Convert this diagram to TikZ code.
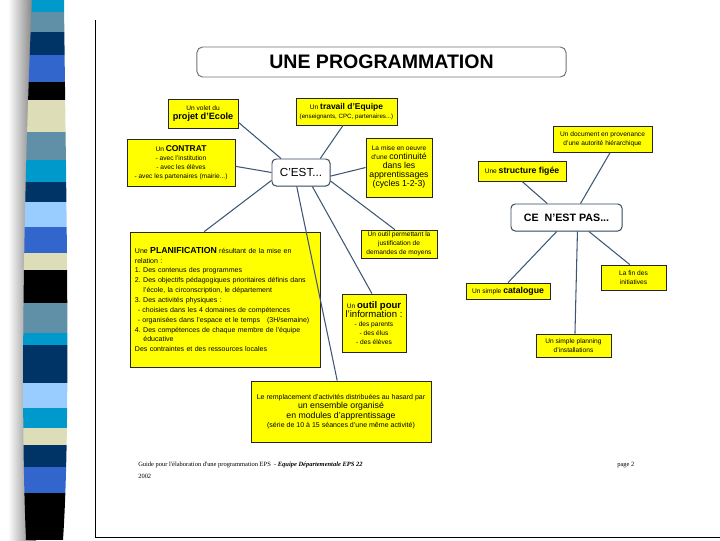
\documentclass[tikz,border=0pt]{standalone}
\usepackage{fontspec}
\setmainfont{Liberation Sans}
\newfontfamily\footfont{Liberation Serif}
\usetikzlibrary{positioning}

\definecolor{boxyellow}{RGB}{255,255,0}
\definecolor{linkblue}{RGB}{62,86,118}
\definecolor{cyanb}{RGB}{0,153,204}
\definecolor{steelb}{RGB}{95,144,168}
\definecolor{navyb}{RGB}{0,51,102}
\definecolor{royalb}{RGB}{51,102,204}
\definecolor{beigeb}{RGB}{221,221,184}
\definecolor{lightb}{RGB}{153,204,255}

\newcommand{\tinytxt}{\fontsize{4.7}{6.4}\selectfont}
\newcommand{\midtxt}{\fontsize{6.2}{7.9}\selectfont}
\newcommand{\planiftxt}{\fontsize{5}{7}\selectfont}

\begin{document}
\begin{tikzpicture}[
x=0.025cm, y=-0.025cm,
ybox/.style={draw=black!85, line width=0.55pt, fill=boxyellow, align=center, inner sep=1pt, font=\tinytxt},
rbox/.style={draw=linkblue!80!black, line width=0.7pt, fill=white, rounded corners=3pt, align=center, inner sep=1pt},
link/.style={draw=linkblue, line width=0.75pt}
]
\useasboundingbox (0,0) rectangle (720,540);

% side stripe
\shade[left color=white, right color=black!55] (8,0) rectangle (36,540);
\begin{scope}
\clip (32,0) .. controls (24,180) and (20,400) .. (26,540) -- (63,540) .. controls (71,420) and (66,200) .. (64,0) -- cycle;
\fill[cyanb] (0,0) rectangle (80,12);
\fill[steelb] (0,12) rectangle (80,32);
\fill[navyb] (0,32) rectangle (80,55);
\fill[royalb] (0,55) rectangle (80,82);
\fill[black] (0,82) rectangle (80,100);
\fill[beigeb] (0,100) rectangle (80,132);
\fill[steelb] (0,132) rectangle (80,160);
\fill[cyanb] (0,160) rectangle (80,182);
\fill[navyb] (0,182) rectangle (80,202);
\fill[lightb] (0,202) rectangle (80,227);
\fill[royalb] (0,227) rectangle (80,253);
\fill[beigeb] (0,253) rectangle (80,270);
\fill[black] (0,270) rectangle (80,303);
\fill[steelb] (0,303) rectangle (80,333);
\fill[cyanb] (0,333) rectangle (80,345);
\fill[navyb] (0,345) rectangle (80,383);
\fill[lightb] (0,383) rectangle (80,408);
\fill[cyanb] (0,408) rectangle (80,428);
\fill[beigeb] (0,428) rectangle (80,445);
\fill[navyb] (0,445) rectangle (80,467);
\fill[royalb] (0,467) rectangle (80,493);
\fill[black] (0,493) rectangle (80,540);
\end{scope}

% page edge
\draw[black, line width=0.6pt] (95,20) -- (95,537) -- (720,537);

% title
\node[rbox, draw=black!55, rounded corners=4pt, minimum width=9.225cm, minimum height=0.75cm, font=\fontsize{13.9}{15}\selectfont\bfseries] (title) at (381.5,62) {UNE PROGRAMMATION};

% C'EST...
\node[rbox, minimum width=1.45cm, minimum height=0.675cm, font=\fontsize{8.3}{10}\selectfont] (cest) at (301,172.5) {C'EST...};
\node[ybox, minimum width=1.75cm, minimum height=0.725cm] (volet) at (203,113.5) {Un volet du\\{\fontsize{6.5}{8}\selectfont\bfseries projet d'Ecole}};
\node[ybox, minimum width=2.525cm, minimum height=0.675cm] (travail) at (346.5,111.5) {Un {\fontsize{6}{7.5}\selectfont\bfseries travail d'Equipe}\\{\fontsize{4.4}{6}\selectfont(enseignants, CPC, partenaires...)}};
\node[ybox, minimum width=2.7cm, minimum height=1.175cm] (contrat) at (181,162.5) {Un {\fontsize{6}{7.5}\selectfont\bfseries CONTRAT}\\- avec l'institution\\- avec les élèves\\- avec les partenaires (mairie...)};
\node[ybox, minimum width=1.65cm, minimum height=1.475cm] (continu) at (399,167.5) {La mise en oeuvre\\d'une {\midtxt continuité}\\{\midtxt dans les}\\{\midtxt apprentissages}\\{\midtxt (cycles 1-2-3)}};
\node[ybox, minimum width=4.75cm, minimum height=3.375cm, text width=4.5cm, align=left, font=\planiftxt] (planif) at (225,299.5) {Une {\fontsize{6.2}{7.5}\selectfont\bfseries PLANIFICATION} résultant de la mise en\\
relation :\\
1.\ Des contenus des programmes\\
2.\ Des objectifs pédagogiques prioritaires définis dans\\
\hspace*{1.2em}l'école, la circonscription, le département\\
3.\ Des activités physiques :\\
\hspace*{0.4em}- choisies dans les 4 domaines de compétences\\
\hspace*{0.4em}\mbox{- organisées dans l'espace et le temps\ \ \ (3H/semaine)}\\
4.\ Des compétences de chaque membre de l'équipe\\
\hspace*{1.2em}éducative\\
Des contraintes et des ressources locales};
\node[ybox, minimum width=1.9cm, minimum height=0.7cm] (moyens) at (399,244) {Un outil permettant la\\justification de\\demandes de moyens};
\node[ybox, minimum width=1.6cm, minimum height=1.45cm] (info) at (374,323) {Un {\fontsize{6.8}{8.2}\selectfont\bfseries outil pour}\\{\fontsize{6.8}{8.2}\selectfont l'information :}\\- des parents\\- des élus\\- des élèves};
\node[ybox, minimum width=4.5cm, minimum height=1.525cm, font=\fontsize{5}{6.6}\selectfont] (modules) at (341,411.5) {Le remplacement d'activités distribuées au hasard par\\{\fontsize{6.2}{8}\selectfont un ensemble organisé}\\{\fontsize{6.2}{8}\selectfont en modules d'apprentissage}\\(série de 10 à 15 séances d'une même activité)};

% CE N'EST PAS...
\node[rbox, minimum width=2.775cm, minimum height=0.675cm, font=\fontsize{7.6}{9}\selectfont\bfseries] (cenest) at (566.5,217.5) {CE\ \ N'EST PAS...};
\node[ybox, minimum width=2.475cm, minimum height=0.65cm] (document) at (602.5,139) {Un document en provenance\\d'une autorité hiérarchique};
\node[ybox, minimum width=2.2cm, minimum height=0.5cm] (figee) at (522,171) {Une {\fontsize{6.2}{7.5}\selectfont\bfseries structure figée}};
\node[ybox, minimum width=1.625cm, minimum height=0.625cm] (fins) at (633.5,277.5) {La fin des\\initiatives};
\node[ybox, minimum width=2.1cm, minimum height=0.4cm] (catalogue) at (508,291) {Un simple {\fontsize{6.2}{7.5}\selectfont\bfseries catalogue}};
\node[ybox, minimum width=1.875cm, minimum height=0.575cm] (planning) at (573.5,345.5) {Un simple planning\\d'installations};

% links
\draw[link] (volet.-14) -- (cest.145);
\draw[link] (travail.256) -- (cest.36);
\draw[link] (contrat.-4) -- (cest.west);
\draw[link] (continu.west) -- (cest.-7);
\draw[link] (cest.195) -- (planif.107);
\draw[link] (cest.253) -- (modules.97);
\draw[link] (cest.-51) -- (info.94);
\draw[link] (cest.-16) -- (moyens.106);
\draw[link] (figee.south) -- (cenest.144);
\draw[link] (document.-60) -- (cenest.45);
\draw[link] (cenest.235) -- (catalogue.north);
\draw[link] (cenest.-52) -- (planning.83);
\draw[link] (cenest.-32) -- (fins.106);

% footer
\node[anchor=west, inner sep=0pt, font=\footfont\fontsize{4.6}{5.5}\selectfont] (guide) at (138,465) {Guide pour l'élaboration d'une programmation EPS\ \ - \textbf{\textit{Equipe Départementale EPS 22}}};
\node[anchor=west, inner sep=0pt, font=\footfont\fontsize{4.6}{5.5}\selectfont] (annee) at (138,476) {2002};
\node[anchor=west, inner sep=0pt, font=\footfont\fontsize{4.6}{5.5}\selectfont] (page) at (617,465) {page 2};
\end{tikzpicture}
\end{document}
